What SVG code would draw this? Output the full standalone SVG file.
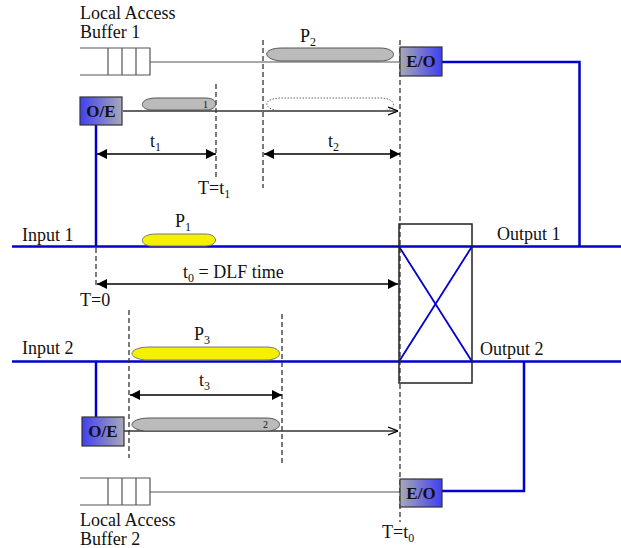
<svg xmlns="http://www.w3.org/2000/svg" width="621" height="548" viewBox="0 0 621 548" font-family="'Liberation Serif', 'DejaVu Serif', serif">
<defs>
<linearGradient id="gOE" x1="0" y1="0" x2="1" y2="0"><stop offset="0" stop-color="#4040f0"/><stop offset="1" stop-color="#a8a8b8"/></linearGradient>
<linearGradient id="gEO" x1="0" y1="0" x2="1" y2="0"><stop offset="0" stop-color="#a8a8b8"/><stop offset="1" stop-color="#4040f0"/></linearGradient>
<marker id="fa" viewBox="0 0 10 10" refX="10" refY="5" markerWidth="12" markerHeight="10" markerUnits="userSpaceOnUse" orient="auto-start-reverse"><path d="M0,0 L10,5 L0,10 Z" fill="#000"/></marker>
<marker id="oa" viewBox="0 0 10 10" refX="10" refY="5" markerWidth="10" markerHeight="10" markerUnits="userSpaceOnUse" orient="auto"><path d="M0,1 L10,5 L0,9" fill="none" stroke="#000" stroke-width="1.2"/></marker>
<style>
text{font-family:'Liberation Serif','DejaVu Serif',serif;font-size:18px;fill:#111}
.sub{font-size:12px}
.box{stroke:#333;stroke-width:1.2}
.bl{stroke:#0000cc;stroke-width:2.5;fill:none}
.thin{stroke:#555;stroke-width:1.2;fill:none}
.dash{stroke:#333;stroke-width:1.3;stroke-dasharray:5,3;fill:none}
.dim{stroke:#000;stroke-width:1.3;fill:none;marker-start:url(#fa);marker-end:url(#fa)}
.dir{stroke:#333;stroke-width:1.3;fill:none;marker-end:url(#oa)}
.pk{fill:#bbb;stroke:#555;stroke-width:1}
.pky{fill:#f5f000;stroke:#777;stroke-width:1}
.pkd{fill:none;stroke:#666;stroke-width:1;stroke-dasharray:1.5,1.5}
.bt{font-weight:bold;font-size:17px}
.pn{font-size:10px}
</style>
</defs>

<g id="connectors">
<line class="bl" x1="12" y1="246.5" x2="621" y2="246.5"/>
<line class="bl" x1="12" y1="361.5" x2="621" y2="361.5"/>
<line class="bl" x1="96" y1="125" x2="96" y2="246.5"/>
<line class="bl" x1="96" y1="361.5" x2="96" y2="417"/>
<polyline class="bl" points="442,62 579.5,62 579.5,246.5"/>
<polyline class="bl" points="442,491 524,491 524,361.5"/>
<line stroke="#0000cc" stroke-width="1.8" x1="399" y1="246.5" x2="472" y2="361.5"/>
<line stroke="#0000cc" stroke-width="1.8" x1="472" y1="246.5" x2="399" y2="361.5"/>
<line class="thin" x1="150" y1="62" x2="400" y2="62"/>
<line class="thin" x1="150" y1="492" x2="400" y2="492"/>
<line class="dir" x1="123" y1="111" x2="398" y2="111"/>
<line class="dir" x1="124" y1="431" x2="398" y2="431"/>
<line class="dash" x1="216" y1="84" x2="216" y2="178"/>
<line class="dash" x1="263" y1="40" x2="263" y2="188"/>
<line class="dash" x1="400" y1="40" x2="400" y2="522"/>
<line class="dash" x1="96" y1="248" x2="96" y2="287"/>
<line class="dash" x1="129" y1="310" x2="129" y2="458"/>
<line class="dash" x1="282" y1="314" x2="282" y2="465"/>
<line class="dim" x1="97" y1="154" x2="216" y2="154"/>
<line class="dim" x1="264" y1="154" x2="400" y2="154"/>
<line class="dim" x1="130" y1="395" x2="282" y2="395"/>
<line stroke="#000" stroke-width="1.3" x1="97" y1="284" x2="398" y2="284" style="marker-start:url(#fa);marker-end:url(#fa)"/>
</g>

<g id="buffer1">
<path class="thin" d="M80,48 H150 V75 H80 M108,48 V75 M122,48 V75 M136,48 V75"/>
<text x="80" y="19">Local Access</text>
<text x="80" y="38">Buffer 1</text>
</g>
<g id="buffer2">
<path class="thin" d="M80,478 H150 V505 H80 M108,478 V505 M122,478 V505 M136,478 V505"/>
<text x="80" y="526">Local Access</text>
<text x="80" y="545">Buffer 2</text>
</g>

<g id="oe1"><rect class="box" x="80" y="97" width="42" height="28" fill="url(#gOE)"/><text class="bt" x="101" y="117" text-anchor="middle">O/E</text></g>
<g id="oe2"><rect class="box" x="82" y="417" width="42" height="29" fill="url(#gOE)"/><text class="bt" x="103" y="437" text-anchor="middle">O/E</text></g>
<g id="eo1"><rect class="box" x="400" y="47" width="42" height="29" fill="url(#gEO)"/><text class="bt" x="421" y="67" text-anchor="middle">E/O</text></g>
<g id="eo2"><rect class="box" x="400" y="479" width="42" height="28" fill="url(#gEO)"/><text class="bt" x="421" y="499" text-anchor="middle">E/O</text></g>

<g id="switch"><rect x="399" y="224" width="73" height="159" fill="none" stroke="#222" stroke-width="1.5"/></g>

<g id="packets">
<path class="pk" d="M150,110 C138,108 140,98 156,98 L206,98 C219,98 219,110 206,110 Z"/>
<text class="pn" x="203" y="108">1</text>
<path class="pk" d="M280,61 C262,59 262,48 282,48 L380,48 C398,48 398,61 380,61 Z"/>
<path class="pkd" d="M280,111 C262,109 262,98 282,98 L380,98 C398,98 398,111 380,111 Z"/>
<path class="pky" d="M150,246 C138,244 140,234 156,234 L205,234 C219,234 219,246 205,246 Z"/>
<path class="pky" d="M145,360 C126,358 128,347 150,347 L266,347 C284,347 284,360 266,360 Z"/>
<path class="pk" d="M145,431 C126,429 128,418 150,418 L266,418 C284,418 284,431 266,431 Z"/>
<text class="pn" x="263" y="428">2</text>
</g>

<g id="labels">
<text x="300" y="42">P<tspan class="sub" dy="4">2</tspan></text>
<text x="175" y="227">P<tspan class="sub" dy="4">1</tspan></text>
<text x="194" y="340">P<tspan class="sub" dy="4">3</tspan></text>
<text x="150" y="147">t<tspan class="sub" dy="4">1</tspan></text>
<text x="328" y="147">t<tspan class="sub" dy="4">2</tspan></text>
<text x="199" y="386">t<tspan class="sub" dy="4">3</tspan></text>
<text x="198" y="194">T=t<tspan class="sub" dy="4">1</tspan></text>
<text x="183" y="278">t<tspan class="sub" dy="4">0</tspan><tspan dy="-4"> = DLF time</tspan></text>
<text x="80" y="306">T=0</text>
<text x="382" y="538">T=t<tspan class="sub" dy="4">0</tspan></text>
<text x="22" y="241">Input 1</text>
<text x="22" y="354">Input 2</text>
<text x="497" y="240">Output 1</text>
<text x="480" y="355">Output 2</text>
</g>
</svg>
